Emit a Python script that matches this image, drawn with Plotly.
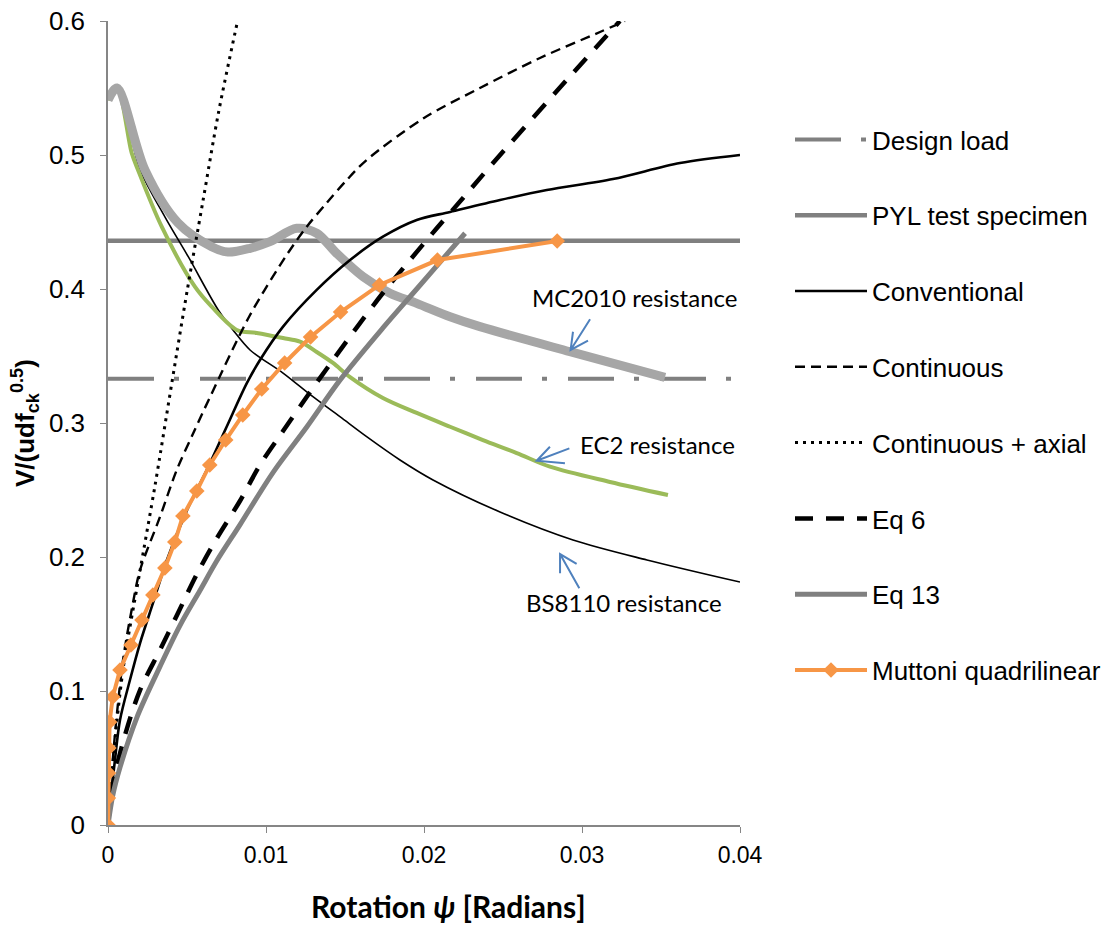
import plotly.graph_objects as go

# ---------------- data ----------------
design_x = [0.0, 0.04]
design_y = [0.333, 0.333]

pyl_x = [0.0, 0.04]
pyl_y = [0.436, 0.436]

conv_x = [0.0, 0.00044, 0.00076, 0.00139, 0.00203, 0.00285, 0.00373, 0.005, 0.00625, 0.00751, 0.00878,
          0.00962, 0.01108, 0.01321, 0.01532, 0.0174, 0.01954, 0.02165, 0.02481, 0.02777, 0.03196,
          0.0362, 0.04]
conv_y = [0.0, 0.0485, 0.0784, 0.1082, 0.1358, 0.1657, 0.1978, 0.235, 0.2649, 0.2972, 0.3296,
          0.347, 0.3719, 0.3993, 0.4216, 0.439, 0.4515, 0.4575, 0.4664, 0.4739, 0.4821,
          0.494, 0.5]

cont_x = [0.0, 0.0003, 0.00057, 0.00095, 0.00158, 0.00203, 0.00329, 0.00435, 0.00538, 0.00646,
          0.00899, 0.01131, 0.01258, 0.01384, 0.01511, 0.01637, 0.02,
          0.02354, 0.02734, 0.03114, 0.03272]
cont_y = [0.0, 0.0485, 0.0836, 0.1231, 0.1657, 0.1903, 0.2299, 0.2649, 0.2920, 0.3194,
          0.3806, 0.4254, 0.4465, 0.4642, 0.4813, 0.4963, 0.5276,
          0.55, 0.5724, 0.5918, 0.6]

axial_x = [0.0, 0.0005, 0.001, 0.002, 0.003, 0.004, 0.005, 0.006, 0.007, 0.0082]
axial_y = [0.0, 0.07, 0.12, 0.188, 0.255, 0.327, 0.398, 0.465, 0.532, 0.6]

eq6_x = [0.0, 0.0003, 0.00108, 0.00203, 0.00329, 0.00437, 0.00563, 0.0069, 0.00835, 0.00962,
         0.01108, 0.01266, 0.01424, 0.01595, 0.0174, 0.01911, 0.02082, 0.02247, 0.02437, 0.02835,
         0.0324]
eq6_y = [0.0, 0.030, 0.0672, 0.1007, 0.1306, 0.1567, 0.1873, 0.2142, 0.2418, 0.2687,
         0.294, 0.3209, 0.347, 0.3746, 0.397, 0.4216, 0.4455, 0.4679, 0.494, 0.547,
         0.6]

eq13_x = [0.0, 0.0003, 0.00076, 0.00182, 0.00308, 0.00456, 0.00582, 0.00688, 0.00835, 0.01044,
          0.01258, 0.01468, 0.0174, 0.01954, 0.0226]
eq13_y = [0.0, 0.022, 0.043, 0.080, 0.113, 0.149, 0.175, 0.197, 0.224, 0.263,
          0.297, 0.332, 0.371, 0.400, 0.4416]

mutt_x = [0.0, 0.00002, 0.00003, 0.00005, 0.0001, 0.0003, 0.00076, 0.00145, 0.00215, 0.00284,
          0.0036, 0.00423, 0.00474, 0.00562, 0.00644, 0.00745, 0.00853, 0.00973, 0.01118, 0.01282,
          0.01472, 0.01718, 0.02085, 0.02843]
mutt_y = [0.0, 0.0201, 0.0388, 0.0575, 0.0769, 0.0955, 0.1157, 0.1343, 0.153, 0.1716,
          0.1918, 0.2112, 0.2306, 0.2493, 0.2687, 0.2873, 0.306, 0.3254, 0.3448, 0.3642,
          0.3828, 0.403, 0.4216, 0.4358]

mc_x = [0.0, 0.00057, 0.00234, 0.00443, 0.00656, 0.00759, 0.00899, 0.01025, 0.01194, 0.01321,
        0.01447, 0.01614, 0.01785, 0.01954, 0.02165, 0.02354, 0.02924, 0.03525]
mc_y = [0.541, 0.55, 0.4888, 0.4493, 0.4316, 0.4276, 0.4304, 0.4353, 0.4453, 0.4416,
        0.4266, 0.4092, 0.3968, 0.3893, 0.3793, 0.3719, 0.3532, 0.3341]

ec2_x = [0.0, 0.00057, 0.0015, 0.0019, 0.0034, 0.0055, 0.00656, 0.00815, 0.00941, 0.01108,
         0.01215, 0.01321, 0.01424, 0.01532, 0.0174, 0.01954, 0.02165, 0.02373, 0.02587, 0.02797,
         0.03177, 0.03544]
ec2_y = [0.541, 0.55, 0.5015, 0.4888, 0.4465, 0.4017, 0.3868, 0.3694, 0.3672, 0.3634,
         0.3607, 0.353, 0.3448, 0.3343, 0.3187, 0.3075, 0.2972, 0.2873, 0.2776, 0.2674,
         0.256, 0.2463]

bs_x = [0.0, 0.00057, 0.002, 0.00361, 0.00508, 0.00698, 0.00791, 0.00899, 0.01108, 0.01297,
        0.01468, 0.01637, 0.01848, 0.02057, 0.02481, 0.02943, 0.03411, 0.04]
bs_y = [0.541, 0.55, 0.49, 0.4537, 0.4241, 0.3843, 0.3694, 0.3545, 0.3373, 0.3196,
        0.3047, 0.2898, 0.2724, 0.2575, 0.2336, 0.2127, 0.1978, 0.1813]

x_ticks = [0, 0.01, 0.02, 0.03, 0.04]
x_ticktext = ["0", "0.01", "0.02", "0.03", "0.04"]
y_ticks = [0, 0.1, 0.2, 0.3, 0.4, 0.5, 0.6]
y_ticktext = ["0", "0.1", "0.2", "0.3", "0.4", "0.5", "0.6"]

# annotation arrows (data coords): tail, tip, head1, head2
arrows = {
    "MC2010 resistance": dict(text_xy=(0.03335, 0.3933),
                              tail=(0.03051, 0.3774), tip=(0.02928, 0.3545),
                              h1=(0.02943, 0.3681), h2=(0.03038, 0.3614)),
    "EC2 resistance": dict(text_xy=(0.03475, 0.2836),
                           tail=(0.0292, 0.2811), tip=(0.02713, 0.2718),
                           h1=(0.02797, 0.2823), h2=(0.02892, 0.2699)),
    "BS8110 resistance": dict(text_xy=(0.03266, 0.1657),
                              tail=(0.02983, 0.1766), tip=(0.02861, 0.2022),
                              h1=(0.02861, 0.1878), h2=(0.02966, 0.1948)),
}

GRAY = "#808080"
LGRAY = "#a6a6a6"
GREEN = "#9bbb59"
ORANGE = "#f79646"
BLUE = "#4f81bd"

fig = go.Figure()

def add(x, y, name, color, width, dash="solid", show=True, shape="spline", mode="lines", marker=None):
    fig.add_trace(go.Scatter(
        x=x, y=y, name=name, mode=mode, showlegend=show, legendgroup=name,
        line=dict(color=color, width=width, dash=dash, shape=shape,
                  smoothing=0.9 if shape == "spline" else None),
        marker=marker, hoverinfo="skip"))

add(design_x, design_y, "Design load", GRAY, 4, dash="46px,20px,5px,21px", shape="linear")
add(pyl_x, pyl_y, "PYL test specimen", GRAY, 4.5, shape="linear")
add(bs_x, bs_y, "BS8110 resistance", "#000000", 1.6, show=False)
add(ec2_x, ec2_y, "EC2 resistance", GREEN, 4, show=False)
add(mc_x, mc_y, "MC2010 resistance", LGRAY, 9, show=False)
add(conv_x, conv_y, "Conventional", "#000000", 2.6)
add(cont_x, cont_y, "Continuous", "#000000", 2.4, dash="10px,6px")
add(axial_x, axial_y, "Continuous + axial", "#000000", 3, dash="3px,5px")
add(eq6_x, eq6_y, "Eq 6", "#000000", 4.5, dash="18px,13px")
add(eq13_x, eq13_y, "Eq 13", GRAY, 5)
add(mutt_x, mutt_y, "Muttoni quadrilinear", ORANGE, 4, shape="linear", mode="lines+markers",
    marker=dict(symbol="diamond", size=12, color=ORANGE))

shapes = []
annotations = []
for label, a in arrows.items():
    path = "M {0} {1} L {2} {3} M {4} {5} L {2} {3} L {6} {7}".format(
        a["tail"][0], a["tail"][1], a["tip"][0], a["tip"][1],
        a["h1"][0], a["h1"][1], a["h2"][0], a["h2"][1])
    shapes.append(dict(type="path", xref="x", yref="y", path=path,
                       line=dict(color=BLUE, width=2)))
    annotations.append(dict(x=a["text_xy"][0], y=a["text_xy"][1], xref="x", yref="y",
                            text=label, showarrow=False,
                            font=dict(family="Lato", size=24, color="#000000")))

annotations.append(dict(x=(448 - 108) / 632, y=-(906 - 825) / 804, xref="paper", yref="paper",
                        text="<b>Rotation <i>ψ</i> [Radians]</b>", showarrow=False,
                        xanchor="center", yanchor="middle",
                        font=dict(family="Lato", size=30, color="#000000")))
annotations.append(dict(x=(25 - 108) / 632, y=0.5, xref="paper", yref="paper",
                        text="<b>V/(udf<sub>ck</sub><sup>0.5</sup>)</b>", showarrow=False,
                        textangle=-90, xanchor="center", yanchor="middle",
                        font=dict(family="Liberation Sans, Arial", size=26, color="#000000")))

fig.update_layout(
    width=1113, height=938,
    margin=dict(l=108, r=373, t=21, b=113, autoexpand=False),
    paper_bgcolor="white", plot_bgcolor="white",
    font=dict(family="Liberation Sans, Arial", size=22, color="#000000"),
    shapes=shapes, annotations=annotations,
    legend=dict(x=1.0 + (790 - 740) / 632, y=(825 - 116) / 804, xanchor="left", yanchor="top",
                traceorder="grouped", tracegroupgap=39, itemwidth=72,
                font=dict(family="Liberation Sans, Arial", size=26, color="#000000"),
                bgcolor="rgba(0,0,0,0)"),
    xaxis=dict(range=[0, 0.04], tickvals=x_ticks, ticktext=x_ticktext, showgrid=False,
               zeroline=False, showline=True, linecolor="#868686", linewidth=1.5,
               ticks="outside", ticklen=6, tickcolor="#868686", ticklabelstandoff=3,
               tickfont=dict(size=23)),
    yaxis=dict(range=[0, 0.6], tickvals=y_ticks, ticktext=y_ticktext, showgrid=False,
               zeroline=False, showline=True, linecolor="#868686", linewidth=1.5,
               ticks="outside", ticklen=6, tickcolor="#868686", ticklabelstandoff=10,
               tickfont=dict(size=26)),
)

fig.write_html("out.html")
